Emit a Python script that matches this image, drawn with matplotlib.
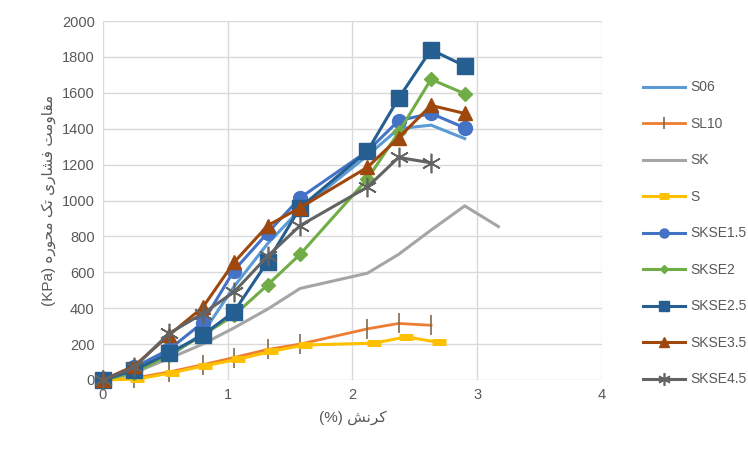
import matplotlib
matplotlib.use("Agg")
import matplotlib.pyplot as plt

# strain (%) and unconfined compressive strength (KPa) for each mix
x_main = [0, 0.25, 0.53, 0.8, 1.05, 1.32, 1.58, 2.12, 2.37, 2.63, 2.9]
x_sk = [0, 0.25, 0.53, 0.8, 1.05, 1.32, 1.58, 2.12, 2.37, 2.63, 2.9, 3.17]
x_s = [0, 0.27, 0.55, 0.82, 1.08, 1.35, 1.62, 2.17, 2.43, 2.69]

S06 = [0, 50, 130, 260, 520, 760, 950, 1250, 1400, 1420, 1345]
SL10 = [0, 10, 45, 85, 125, 170, 200, 285, 315, 305]
SK = [0, 40, 120, 200, 290, 395, 510, 595, 700, 835, 970, 855]
S = [0, 5, 40, 80, 115, 160, 195, 205, 240, 210]
SKSE1_5 = [0, 70, 170, 320, 610, 820, 1015, 1275, 1445, 1485, 1405]
SKSE2 = [0, 40, 140, 250, 360, 530, 700, 1120, 1380, 1675, 1595]
SKSE2_5 = [0, 55, 150, 250, 380, 660, 960, 1275, 1570, 1840, 1750]
SKSE3_5 = [0, 78, 250, 405, 655, 860, 960, 1185, 1350, 1530, 1485]
SKSE4_5 = [0, 70, 260, 370, 490, 690, 860, 1075, 1240, 1210]

x_ticks = [0, 1, 2, 3, 4]
y_ticks = list(range(0, 2001, 200))

# minimal Persian shaping (presentation forms) since matplotlib does no shaping
FORMS = {
    'م': ('\uFEE1', '\uFEE2', '\uFEE3', '\uFEE4'),
    'ق': ('\uFED5', '\uFED6', '\uFED7', '\uFED8'),
    'ا': ('\uFE8D', '\uFE8E', None, None),
    'و': ('\uFEED', '\uFEEE', None, None),
    'ت': ('\uFE95', '\uFE96', '\uFE97', '\uFE98'),
    'ف': ('\uFED1', '\uFED2', '\uFED3', '\uFED4'),
    'ش': ('\uFEB5', '\uFEB6', '\uFEB7', '\uFEB8'),
    'ر': ('\uFEAD', '\uFEAE', None, None),
    'ی': ('\uFBFC', '\uFBFD', '\uFBFE', '\uFBFF'),
    'ک': ('\uFB8E', '\uFB8F', '\uFB90', '\uFB91'),
    'ح': ('\uFEA1', '\uFEA2', '\uFEA3', '\uFEA4'),
    'ه': ('\uFEE9', '\uFEEA', '\uFEEB', '\uFEEC'),
    'ن': ('\uFEE5', '\uFEE6', '\uFEE7', '\uFEE8'),
}


def shape(text):
    out = []
    for i, ch in enumerate(text):
        if ch not in FORMS:
            out.append(ch)
            continue
        iso, fin, ini, med = FORMS[ch]
        prev = text[i - 1] if i > 0 else ''
        nxt = text[i + 1] if i + 1 < len(text) else ''
        pj = prev in FORMS and FORMS[prev][2] is not None
        nj = nxt in FORMS and ini is not None
        if pj and nj:
            out.append(med)
        elif pj:
            out.append(fin)
        elif nj:
            out.append(ini)
        else:
            out.append(iso)
    return ''.join(out)[::-1]


plt.rcParams['font.family'] = ['Liberation Sans', 'DejaVu Sans']

fig = plt.figure(figsize=(7.48, 4.54), dpi=100)
ax = fig.add_axes([0.1377, 0.163, 0.667, 0.7907])

ax.plot(x_main, S06, color='#5B9BD5', lw=2.2, label='S06')
ax.plot(x_main[:10], SL10, color='#ED7D31', lw=2.0, marker='|', ms=14, mew=1.2, mec='#7F6A50', label='SL10')
ax.plot(x_sk, SK, color='#A5A5A5', lw=2.2, label='SK')
ax.plot(x_s, S, color='#FFC000', lw=2.2, marker='_', ms=10, mew=5, label='S')
ax.plot(x_main, SKSE1_5, color='#4472C4', lw=2.2, marker='o', ms=10, label='SKSE1.5')
ax.plot(x_main, SKSE2, color='#70AD47', lw=2.2, marker='D', ms=7, label='SKSE2')
ax.plot(x_main, SKSE2_5, color='#255E91', lw=2.2, marker='s', ms=11, label='SKSE2.5')
ax.plot(x_main, SKSE3_5, color='#9E480E', lw=2.2, marker='^', ms=10, label='SKSE3.5')
ax.plot(x_main[:10], SKSE4_5, color='#636363', lw=2.2, marker=(6, 2, 0), ms=14, mew=1.2, label='SKSE4.5')

ax.set_xlim(0, 4)
ax.set_ylim(0, 2000)
ax.set_xticks(x_ticks)
ax.set_yticks(y_ticks)
ax.grid(True, color='#D9D9D9', lw=1)
ax.set_axisbelow(True)
for s in ax.spines.values():
    s.set_visible(False)
ax.tick_params(length=0, labelsize=10.5, colors='#595959', pad=6)
ax.margins(0)
for ln in ax.lines:
    ln.set_clip_on(False)

ax.set_xlabel('(%) ' + shape('کرنش'), fontsize=11, color='#595959', labelpad=6)
ax.set_ylabel('(KPa) ' + shape('مقاومت فشاری تک محوره'), fontsize=11, color='#595959', labelpad=4)

ax.legend(loc='upper left', bbox_to_anchor=(1.072, 0.85), frameon=False, fontsize=10,
          labelcolor='#595959', handlelength=3.0, handletextpad=0.4, labelspacing=1.62,
          markerscale=0.65, borderaxespad=0)

fig.savefig('out.png', dpi=100)
